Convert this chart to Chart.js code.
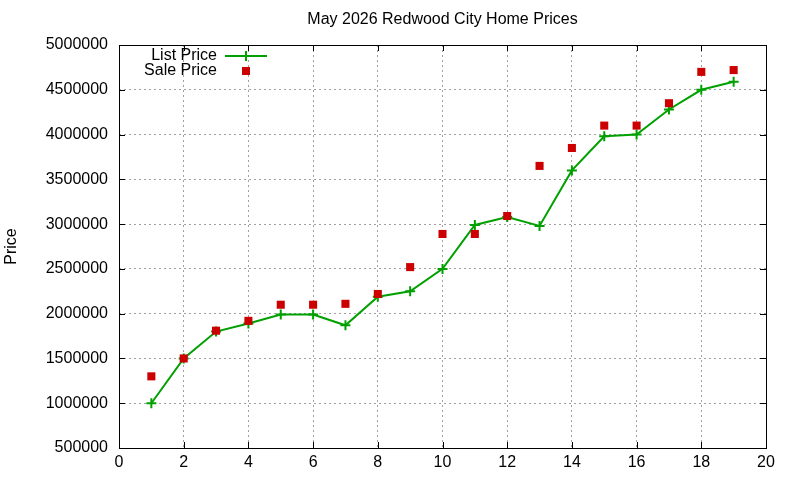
<!DOCTYPE html>
<html>
<head>
<meta charset="utf-8">
<script src="https://cdn.jsdelivr.net/npm/chart.js@4"></script>
<style>
  html, body { margin: 0; padding: 0; background: #fff; }
  #wrap { width: 800px; height: 480px; }
</style>
</head>
<body>
<div id="wrap"><canvas id="chart" width="800" height="480"></canvas></div>
<script>
// -----------------------------
// Data
// -----------------------------
const months = [1, 2, 3, 4, 5, 6, 7, 8, 9, 10, 11, 12, 13, 14, 15, 16, 17, 18, 19];
const listPrice = [1000000, 1500000, 1800000, 1890000, 1990000, 1990000, 1870000, 2190000, 2250000, 2500000,
                   2990000, 3080000, 2980000, 3600000, 3980000, 4000000, 4280000, 4500000, 4590000];
const salePrice = [1300000, 1500000, 1810000, 1920000, 2100000, 2100000, 2110000, 2220000, 2520000, 2890000,
                   2890000, 3090000, 3650000, 3850000, 4100000, 4100000, 4350000, 4700000, 4720000];
const xTicks = [0, 2, 4, 6, 8, 10, 12, 14, 16, 18, 20];
const yTicks = [500000, 1000000, 1500000, 2000000, 2500000, 3000000, 3500000, 4000000, 4500000, 5000000];

const GREEN = '#00a000';
const RED = '#cc0000';
const FONT = 'Liberation Sans, Arial, sans-serif';

Chart.defaults.font.family = FONT;
Chart.defaults.font.size = 16;
Chart.defaults.color = '#000';

// -----------------------------
// Plugins: border, inward ticks, gnuplot style key
// -----------------------------
const framePlugin = {
    id: 'frame',
    afterDatasetsDraw(chart) {
        const { ctx, chartArea: a, scales } = chart;
        ctx.save();
        ctx.strokeStyle = '#000';
        ctx.lineWidth = 1;
        ctx.beginPath();
        xTicks.forEach(v => {
            const px = Math.round(scales.x.getPixelForValue(v)) + 0.5;
            ctx.moveTo(px, a.bottom); ctx.lineTo(px, a.bottom - 6);
            ctx.moveTo(px, a.top); ctx.lineTo(px, a.top + 6);
        });
        yTicks.forEach(v => {
            const py = Math.round(scales.y.getPixelForValue(v)) + 0.5;
            ctx.moveTo(a.left, py); ctx.lineTo(a.left + 6, py);
            ctx.moveTo(a.right, py); ctx.lineTo(a.right - 6, py);
        });
        ctx.stroke();
        ctx.strokeRect(Math.round(a.left) + 0.5, Math.round(a.top) + 0.5,
                       Math.round(a.right - a.left), Math.round(a.bottom - a.top));
        ctx.restore();
    },
    afterDraw(chart) {
        const { ctx, chartArea: a } = chart;
        const textX = a.left + 98;
        const sampleX = a.left + 106;
        const markX = a.left + 127;
        const row1 = a.top + 11;
        const row2 = a.top + 26;
        ctx.save();
        ctx.font = '16px ' + FONT;
        ctx.fillStyle = '#000';
        ctx.textAlign = 'right';
        ctx.textBaseline = 'middle';
        ctx.fillText('List Price', textX, row1);
        ctx.fillText('Sale Price', textX, row2);
        ctx.strokeStyle = GREEN;
        ctx.lineWidth = 2;
        ctx.beginPath();
        ctx.moveTo(sampleX, row1); ctx.lineTo(sampleX + 42, row1);
        ctx.moveTo(markX, row1 - 5); ctx.lineTo(markX, row1 + 5);
        ctx.stroke();
        ctx.fillStyle = RED;
        ctx.fillRect(markX - 4, row2 - 4, 8, 8);
        ctx.restore();
    }
};

// -----------------------------
// Chart
// -----------------------------
const toPoints = values => months.map((m, i) => ({ x: m, y: values[i] }));

new Chart(document.getElementById('chart'), {
    type: 'line',
    data: {
        datasets: [
            {
                label: 'List Price',
                data: toPoints(listPrice),
                borderColor: GREEN,
                backgroundColor: GREEN,
                borderWidth: 2,
                pointStyle: 'cross',
                pointRadius: 5,
                pointBorderWidth: 2,
                pointBorderColor: GREEN,
                tension: 0,
                order: 2
            },
            {
                label: 'Sale Price',
                data: toPoints(salePrice),
                showLine: false,
                pointStyle: 'rect',
                pointRadius: 5.7,
                pointBorderWidth: 0,
                pointBackgroundColor: RED,
                pointBorderColor: RED,
                order: 1
            }
        ]
    },
    options: {
        responsive: false,
        animation: false,
        layout: { padding: { left: 0, right: 34, top: 0, bottom: 0 } },
        plugins: {
            legend: { display: false },
            tooltip: { enabled: false },
            title: {
                display: true,
                fullSize: false,
                text: 'May 2026 Redwood City Home Prices',
                font: { size: 16, weight: 'normal' },
                padding: { top: 10, bottom: 15.8 }
            }
        },
        scales: {
            x: {
                type: 'linear',
                min: 0,
                max: 20,
                afterBuildTicks: s => { s.ticks = xTicks.map(v => ({ value: v })); },
                afterFit: s => { s.height = 32; },
                ticks: { padding: 5, maxRotation: 0 },
                grid: { color: '#a0a0a0', lineWidth: 1, drawTicks: false },
                border: { display: false, dash: [2, 3] }
            },
            y: {
                type: 'linear',
                min: 500000,
                max: 5000000,
                afterBuildTicks: s => { s.ticks = yTicks.map(v => ({ value: v })); },
                afterFit: s => { s.width = 119; },
                ticks: { padding: 11, callback: v => String(v) },
                grid: { color: '#a0a0a0', lineWidth: 1, drawTicks: false },
                border: { display: false, dash: [2, 3] },
                title: { display: true, text: 'Price', font: { size: 16 }, padding: { top: 2, bottom: 0 } }
            }
        }
    },
    plugins: [framePlugin]
});
</script>
</body>
</html>
